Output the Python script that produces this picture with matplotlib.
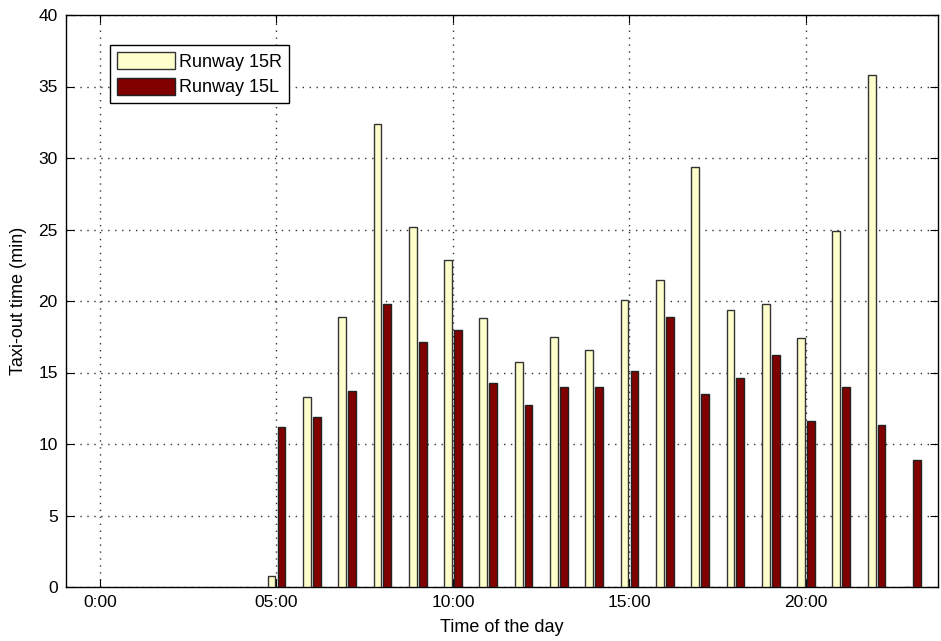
import matplotlib
matplotlib.use("Agg")
import matplotlib.pyplot as plt
import numpy as np

plt.rcParams['font.family'] = ['Liberation Sans', 'DejaVu Sans']

hours = [5, 6, 7, 8, 9, 10, 11, 12, 13, 14, 15, 16, 17, 18, 19, 20, 21, 22, 23]
runway_15R = [0.8, 13.3, 18.9, 32.4, 25.2, 22.9, 18.8, 15.7, 17.5, 16.6, 20.1, 21.5,
              29.4, 19.4, 19.8, 17.4, 24.9, 35.8, 0.0]
runway_15L = [11.2, 11.9, 13.7, 19.8, 17.1, 18.0, 14.3, 12.7, 14.0, 14.0, 15.1, 18.9,
              13.5, 14.6, 16.2, 11.6, 14.0, 11.3, 8.9]
xtick_vals = [0, 5, 10, 15, 20]
xtick_labels = ['0:00', '05:00', '10:00', '15:00', '20:00']
ytick_vals = [0, 5, 10, 15, 20, 25, 30, 35, 40]

fig = plt.figure(figsize=(9.41, 6.41), dpi=100)
ax = fig.add_axes([66 / 941, 54 / 641, 872 / 941, 572 / 641])

h = np.array(hours, dtype=float)
w = 0.22
ax.bar(h - 0.14, runway_15R, width=w, color='#FFFFCC', edgecolor='#333333',
       linewidth=1.0, label='Runway 15R', zorder=3)
ax.bar(h + 0.14, runway_15L, width=w, color='#800000', edgecolor='#222222',
       linewidth=1.0, label='Runway 15L', zorder=3)

ax.set_xlim(-0.963, 23.74)
ax.set_ylim(0, 40)
ax.set_xticks(xtick_vals)
ax.set_xticklabels(xtick_labels)
ax.set_yticks(ytick_vals)
ax.tick_params(direction='in', top=True, right=True, length=6, labelsize=12.5,
               colors='black', pad=6)
ax.grid(True, linestyle=(0, (1, 4)), color='#333333', linewidth=1.0, zorder=0)
for s in ax.spines.values():
    s.set_linewidth(1.0)
    s.set_color('black')

ax.set_xlabel('Time of the day', fontsize=13, labelpad=6)
ax.set_ylabel('Taxi-out time (min)', fontsize=13, labelpad=8)

leg = ax.legend(loc='upper left', bbox_to_anchor=(0.0505, 0.9476), fontsize=13,
                frameon=True, fancybox=False, edgecolor='black', framealpha=1,
                handlelength=3.2, handleheight=1.1, borderpad=0.38,
                labelspacing=0.38, handletextpad=0.25, borderaxespad=0)
leg.get_frame().set_linewidth(1.0)

fig.savefig('out.png', dpi=100)
